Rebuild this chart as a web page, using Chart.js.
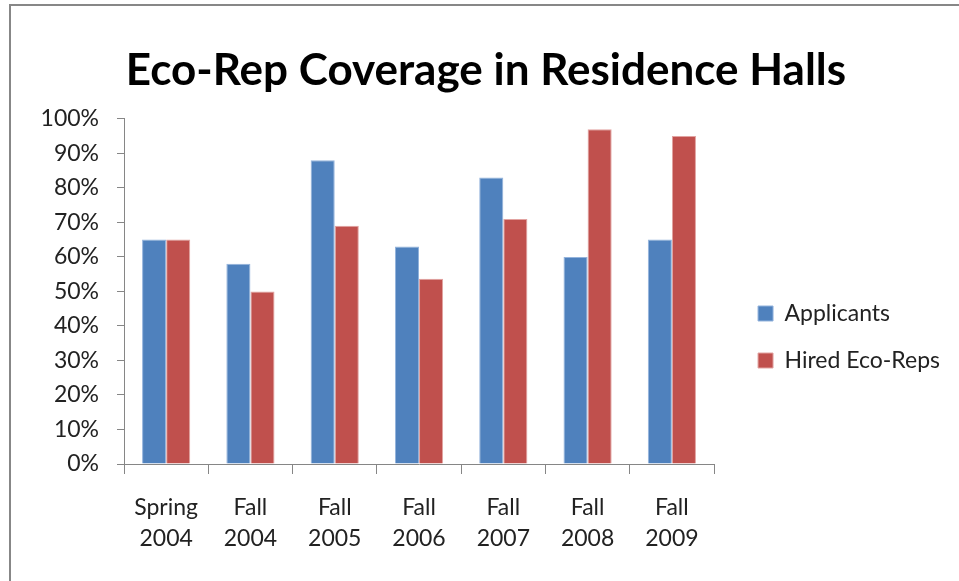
<!DOCTYPE html>
<html>
<head>
<meta charset="utf-8">
<title>Eco-Rep Coverage in Residence Halls</title>
<script src="https://cdn.jsdelivr.net/npm/chart.js@4.4.1/dist/chart.umd.min.js"></script>
<style>
  html, body { margin: 0; padding: 0; background: #fff; }
  #frame {
    position: absolute; left: 9px; top: 4px; width: 960px; height: 590px;
    border-left: 2px solid #878787; border-top: 2px solid #878787;
  }
  #chart { position: absolute; left: 0; top: 0; }
</style>
</head>
<body>
<div id="frame"></div>
<canvas id="chart" width="959" height="581"></canvas>
<script>
// semesters on the x axis (two-line labels)
const terms = [
  ['Spring', '2004'], ['Fall', '2004'], ['Fall', '2005'], ['Fall', '2006'],
  ['Fall', '2007'], ['Fall', '2008'], ['Fall', '2009']
];
// percent of residence halls covered
const applicants   = [65, 58, 88, 63, 83, 60, 65];
const hiredEcoReps = [65, 50, 69, 53.7, 71, 97, 95];
const seriesNames  = ['Applicants', 'Hired Eco-Reps'];

const AXIS = '#868686';
const TEXT = '#222';
const FONT = 'Lato, "Open Sans", sans-serif';

// move the title / legend boxes after layout (title centred on the whole frame,
// legend set off from the plot and lower than the default spot)
const boxNudge = {
  id: 'boxNudge',
  afterLayout(chart, args, opts) {
    const shift = (box, d) => {
      if (!box || !d) return;
      box.left += d.x || 0; box.right += d.x || 0;
      box.top += d.y || 0; box.bottom += d.y || 0;
    };
    shift(chart.titleBlock, opts.title);
    shift(chart.legend, opts.legend);
  }
};

new Chart(document.getElementById('chart'), {
  type: 'bar',
  data: {
    labels: terms,
    datasets: [
      { label: seriesNames[0], data: applicants,
        backgroundColor: '#4F81BD', borderColor: '#93B3DC', borderWidth: 1 },
      { label: seriesNames[1], data: hiredEcoReps,
        backgroundColor: '#C0504D', borderColor: '#E2A3A1', borderWidth: 1 }
    ]
  },
  options: {
    responsive: false,
    animation: false,
    layout: { padding: { left: 20, right: 29, top: 10, bottom: 9 } },
    datasets: { bar: { categoryPercentage: 2 / 3.5, barPercentage: 1 } },
    plugins: {
      title: {
        display: true,
        text: 'Eco-Rep Coverage in Residence Halls',
        color: '#000',
        font: { family: FONT, size: 44, weight: 'bold' },
        padding: { top: 34, bottom: 22 }
      },
      legend: {
        position: 'right',
        labels: {
          color: TEXT,
          font: { family: FONT, size: 23 },
          boxWidth: 15, boxHeight: 15, padding: 24
        }
      },
      boxNudge: { title: { x: 11 }, legend: { x: 20, y: 46 } },
      tooltip: { enabled: false }
    },
    scales: {
      x: {
        grid: { display: true, drawOnChartArea: false, drawTicks: true, tickLength: 10, color: AXIS, offset: true },
        border: { display: true, color: AXIS },
        ticks: { color: TEXT, padding: 18, maxRotation: 0,
                 font: { family: FONT, size: 23, lineHeight: 31 / 23 } }
      },
      y: {
        min: 0, max: 100,
        afterFit(scale) { scale.width = 104; },
        grid: { display: true, drawOnChartArea: false, drawTicks: true, tickLength: 7, color: AXIS },
        border: { display: true, color: AXIS },
        ticks: { stepSize: 10, color: TEXT, padding: 18,
                 font: { family: FONT, size: 23 },
                 callback: v => v + '%' }
      }
    }
  },
  plugins: [boxNudge]
});
</script>
</body>
</html>
